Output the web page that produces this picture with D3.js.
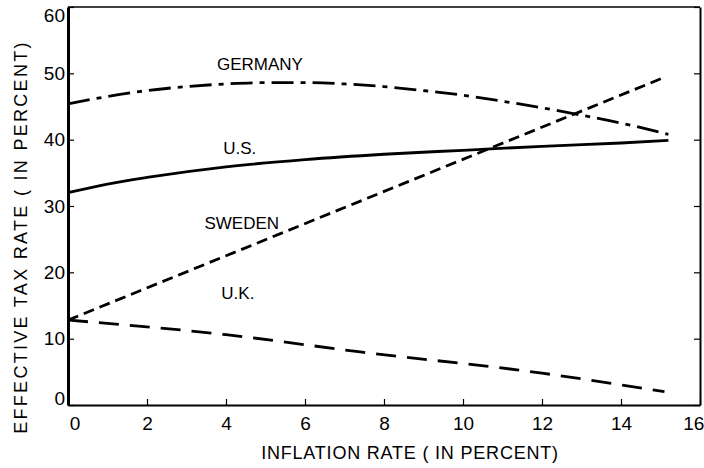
<!DOCTYPE html>
<html>
<head>
	<title>Effective Tax Rate vs Inflation</title>
	<style type="text/css">
		body {
			margin: 0;
			background: #fff;
		}
		svg {
			font-family: "Liberation Sans", Arial, sans-serif;
		}
		.axis text {
			font-size: 19px;
			fill: #000;
		}
		.label {
			font-size: 17px;
		}
		.title {
			font-size: 18px;
		}
	</style>
	<script src="https://d3js.org/d3.v7.min.js"></script>
</head>
<body>
<script type="text/javascript">
	// inflation rate (x) and effective tax rate (y)
	var usX = [0, 1, 2, 4, 6, 8, 10, 12, 14, 15.2];
	var usY = [32, 33.3, 34.3, 35.9, 37, 37.8, 38.4, 39, 39.5, 39.9];

	var germanyX = [0, 1, 2, 3, 4, 5, 6, 7, 8, 9, 10, 11, 12, 13, 14, 15.2];
	var germanyY = [45.4, 46.5, 47.4, 48.0, 48.4, 48.6, 48.6, 48.4, 48.0, 47.4, 46.7, 45.8, 44.8, 43.7, 42.5, 40.8];

	var swedenX = [0, 15.1];
	var swedenY = [12.8, 49.4];

	var ukX = [0, 4, 7.4, 12, 15.1];
	var ukY = [12.8, 10.6, 8.0, 4.8, 2.0];

	var xTicks = [0, 2, 4, 6, 8, 10, 12, 14, 16];
	var yTicks = [0, 10, 20, 30, 40, 50, 60];

	var svg = d3.select("body").append("svg")
		.attr("width", 704)
		.attr("height", 468);

	var x = d3.scaleLinear().domain([0, 16]).range([68, 700]),
		y = d3.scaleLinear().domain([0, 60]).range([405, 7]);

	// frame: top line
	svg.append("line")
		.attr("x1", x(0)).attr("x2", x(16))
		.attr("y1", y(60)).attr("y2", y(60))
		.attr("stroke", "#000").attr("stroke-width", 1.5);

	var gx = svg.append("g")
		.attr("class", "axis")
		.attr("transform", "translate(0," + y(0) + ")")
		.call(d3.axisBottom(x).tickValues(xTicks).tickSizeInner(-6).tickSizeOuter(0).tickPadding(12));

	var gy = svg.append("g")
		.attr("class", "axis")
		.attr("transform", "translate(" + x(0) + ",0)")
		.call(d3.axisLeft(y).tickValues(yTicks).tickSizeInner(-6).tickSizeOuter(0).tickPadding(3));

	var gr = svg.append("g")
		.attr("class", "axis")
		.attr("transform", "translate(" + x(16) + ",0)")
		.call(d3.axisRight(y).tickValues(yTicks).tickSizeInner(-6).tickSizeOuter(0).tickFormat(""));

	[gx, gy, gr].forEach(function(g) {
		g.selectAll("line, path").attr("stroke", "#000");
		g.selectAll("line").attr("stroke-width", 1.2);
	});
	gx.select(".domain").attr("stroke-width", 2);
	gy.select(".domain").attr("stroke-width", 3);
	gr.select(".domain").attr("stroke-width", 2);

	// end labels kept inside the picture
	gx.selectAll(".tick text")
		.attr("text-anchor", function(d) { return d === 16 ? "end" : "middle"; })
		.attr("dx", function(d) { return d === 0 ? "0.35em" : d === 16 ? "0.2em" : 0; });

	gy.selectAll(".tick text")
		.attr("dy", function(d) { return d === 0 ? "-0.05em" : d === 60 ? "0.75em" : "0.32em"; });

	var line = d3.line()
		.x(function(d) { return x(d[0]); })
		.y(function(d) { return y(d[1]); })
		.curve(d3.curveMonotoneX);

	var series = [
		{xs: usX, ys: usY, dash: null},
		{xs: germanyX, ys: germanyY, dash: "22,7,5,7"},
		{xs: swedenX, ys: swedenY, dash: "11,6"},
		{xs: ukX, ys: ukY, dash: "20,11"}
	];

	series.forEach(function(s) {
		var pts = s.xs.map(function(v, i) { return [v, s.ys[i]]; });
		svg.append("path")
			.datum(pts)
			.attr("d", line)
			.attr("fill", "none")
			.attr("stroke", "#000")
			.attr("stroke-width", 2.8)
			.attr("stroke-dasharray", s.dash);
	});

	var labels = [
		{text: "GERMANY", x: 4.86, y: 50.5},
		{text: "U.S.", x: 4.35, y: 37.8},
		{text: "SWEDEN", x: 4.4, y: 26.5},
		{text: "U.K.", x: 4.3, y: 16.0}
	];

	svg.selectAll(".label")
		.data(labels)
		.enter().append("text")
			.attr("class", "label")
			.attr("x", function(d) { return x(d.x); })
			.attr("y", function(d) { return y(d.y); })
			.attr("text-anchor", "middle")
			.text(function(d) { return d.text; });

	svg.append("text")
		.attr("class", "title")
		.attr("x", 410)
		.attr("y", 459)
		.attr("text-anchor", "middle")
		.style("letter-spacing", "0.8px")
		.text("INFLATION RATE ( IN PERCENT)");

	svg.append("text")
		.attr("class", "title")
		.attr("transform", "translate(27,237) rotate(-90)")
		.attr("text-anchor", "middle")
		.style("letter-spacing", "2.3px")
		.text("EFFECTIVE TAX RATE ( IN PERCENT)");
</script>
</body>
</html>
